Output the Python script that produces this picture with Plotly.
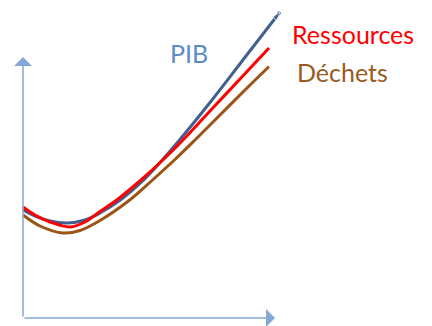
import plotly.graph_objects as go

# Curve data (arbitrary units: x horizontal, y vertical)
x_pib = [0, 0.48, 1.08, 1.76, 2.48, 3.08, 3.92, 4.72, 5.48, 6.16, 7.56, 8.92, 10.28]
y_pib = [4.32, 4.08, 3.88, 3.80, 3.92, 4.20, 4.74, 5.42, 6.22, 7.00, 8.72, 10.48, 12.24]

x_res = [0, 0.48, 1.08, 1.88, 2.48, 3.08, 3.80, 4.72, 5.68, 6.40, 7.48, 8.68, 9.84]
y_res = [4.44, 4.12, 3.84, 3.64, 3.84, 4.26, 4.76, 5.52, 6.40, 7.12, 8.28, 9.56, 10.80]

x_dec = [0, 0.68, 1.60, 2.28, 3.08, 4.32, 5.16, 6.12, 6.88, 7.88, 8.88, 9.84]
y_dec = [4.12, 3.68, 3.40, 3.50, 3.90, 4.76, 5.50, 6.38, 7.12, 8.12, 9.12, 10.06]

labels = ["PIB", "Ressources", "Déchets"]
label_x = [6.64, 13.2, 12.78]
label_y = [10.6, 11.36, 9.84]

axis_len_x = 10.08
axis_len_y = 10.44

col_pib = "#41608F"
col_res = "#FF0000"
col_dec = "#9C5414"
col_pib_txt = "#5B8BC9"
col_dec_txt = "#9A5A1E"
col_axis = "#85A8D6"

fig = go.Figure()

fig.add_trace(go.Scatter(x=x_dec, y=y_dec, mode="lines",
                         line=dict(color=col_dec, width=3, shape="spline", smoothing=1.0)))
fig.add_trace(go.Scatter(x=x_pib, y=y_pib, mode="lines+markers",
                         line=dict(color=col_pib, width=3, shape="spline", smoothing=1.0),
                         marker=dict(symbol="arrow", angleref="previous", color=col_pib,
                                     size=[0] * (len(x_pib) - 1) + [9])))
fig.add_trace(go.Scatter(x=x_res, y=y_res, mode="lines",
                         line=dict(color=col_res, width=3, shape="spline", smoothing=1.0)))

# Axes as arrows
fig.add_annotation(x=0, y=axis_len_y, ax=0, ay=0, xref="x", yref="y", axref="x", ayref="y",
                   showarrow=True, arrowhead=1, arrowsize=2, arrowwidth=1.5,
                   arrowcolor=col_axis, text="", standoff=0)
fig.add_annotation(x=axis_len_x, y=0, ax=0, ay=0, xref="x", yref="y", axref="x", ayref="y",
                   showarrow=True, arrowhead=1, arrowsize=2, arrowwidth=1.5,
                   arrowcolor=col_axis, text="", standoff=0)

txt_colors = [col_pib_txt, col_res, col_dec_txt]
for t, lx, ly, c in zip(labels, label_x, label_y, txt_colors):
    fig.add_annotation(x=lx, y=ly, text=t, showarrow=False,
                       font=dict(family="Lato, Open Sans, sans-serif", size=25, color=c))

# page body has an 8px margin: figure is 424x318 placed at (8, 8)
fig.update_layout(
    width=424, height=318,
    margin=dict(l=0, r=0, t=0, b=0),
    paper_bgcolor="white", plot_bgcolor="white",
    showlegend=False,
    xaxis=dict(range=[-0.6, 16.36], visible=False, fixedrange=True),
    yaxis=dict(range=[-0.32, 12.4], visible=False, fixedrange=True),
)

fig.write_html("out.html")
